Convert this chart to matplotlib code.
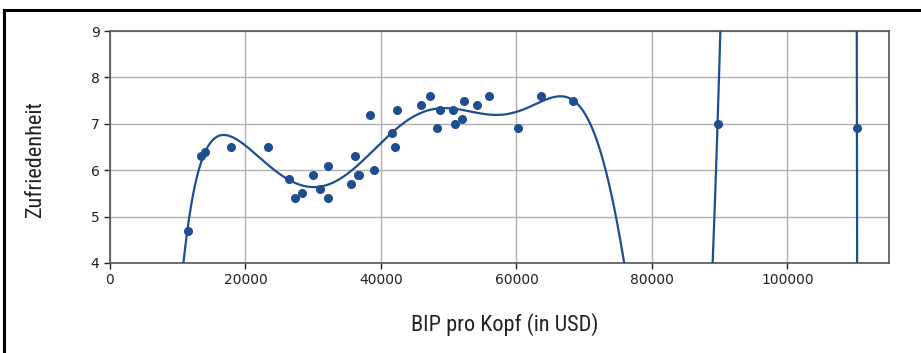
import numpy as np
import matplotlib
matplotlib.use("Agg")
import matplotlib.pyplot as plt
from matplotlib.lines import Line2D
from matplotlib import font_manager
from numpy.polynomial import Polynomial

# GDP per capita (USD) and life satisfaction per country
countries = ["South Africa", "Colombia", "Brazil", "Mexico", "Chile", "Russia",
             "Greece", "Turkey", "Latvia", "Hungary", "Portugal", "Poland",
             "Estonia", "Spain", "Slovenia", "Lithuania", "Israel", "Italy",
             "United Kingdom", "France", "New Zealand", "Canada", "Finland",
             "Belgium", "Australia", "Sweden", "Germany", "Austria", "Iceland",
             "Netherlands", "Denmark", "United States", "Norway", "Switzerland",
             "Ireland", "Luxembourg"]
gdp_per_capita = [11466.19, 13441.49, 14063.98, 17887.75, 23324.52, 26456.39,
                  27287.08, 28384.99, 29932.49, 31007.77, 32181.15, 32238.16,
                  35638.42, 36215.45, 36547.74, 36732.03, 38341.31, 38992.15,
                  41627.13, 42025.62, 42404.39, 45856.63, 47260.80, 48210.03,
                  48697.84, 50683.32, 50922.36, 51935.60, 52279.73, 54209.56,
                  55938.21, 60235.73, 63585.90, 68393.31, 89688.96, 110261.16]
life_satisfaction = [4.7, 6.3, 6.4, 6.5, 6.5, 5.8, 5.4, 5.5, 5.9, 5.6, 5.4, 6.1,
                     5.7, 6.3, 5.9, 5.9, 7.2, 6.0, 6.8, 6.5, 7.3, 7.4, 7.6, 6.9,
                     7.3, 7.3, 7.0, 7.1, 7.5, 7.4, 7.6, 6.9, 7.6, 7.5, 7.0, 6.9]

x_ticks = [0, 20000, 40000, 60000, 80000, 100000]
y_ticks = [4, 5, 6, 7, 8, 9]
poly_degree = 10

blue = "#1f4e8f"

# pick a narrow humanist face for the axis labels, if one is available
installed = {f.name for f in font_manager.fontManager.ttflist}
label_family = next((n for n in ["Liberation Sans Narrow", "DejaVu Sans Condensed",
                                 "Roboto Condensed", "Open Sans Condensed", "Lato"]
                     if n in installed), "DejaVu Sans")

x = np.array(gdp_per_capita)
y = np.array(life_satisfaction)

# high-degree polynomial regression over all countries
model = Polynomial.fit(x, y, poly_degree)
x_curve = np.linspace(0, 115000, 2000)
y_curve = model(x_curve)

fig = plt.figure(figsize=(9.21, 3.53), dpi=100)
ax = fig.add_axes([0.1194, 0.255, 0.8459, 0.657])

ax.plot(x, y, "o", color=blue, markersize=5.5, zorder=3)
ax.plot(x_curve, y_curve, "-", color=blue, linewidth=1.6, zorder=3)

ax.set_xlim(0, 115000)
ax.set_ylim(4, 9)
ax.set_xticks(x_ticks)
ax.set_yticks(y_ticks)
ax.tick_params(labelsize=10, colors="#222222", length=4, width=1)
ax.grid(True, color="#b0b0b0", linewidth=1.0)
ax.set_axisbelow(True)
for sp in ax.spines.values():
    sp.set_color("#555555")
    sp.set_linewidth(1.2)

ax.set_xlabel("BIP pro Kopf (in USD)", fontsize=16, family=label_family,
              color="#222222")
ax.xaxis.set_label_coords(0.507, -0.215)
ax.set_ylabel("Zufriedenheit", fontsize=16, family=label_family,
              color="#222222")
ax.yaxis.set_label_coords(-0.082, 0.448)

# outer frame on top and left edge
fig.add_artist(Line2D([0.004, 0.004], [0.0, 0.972], transform=fig.transFigure,
                      color="black", linewidth=2.2))
fig.add_artist(Line2D([0.004, 1.0], [0.972, 0.972], transform=fig.transFigure,
                      color="black", linewidth=2.2))

fig.savefig("out.png", dpi=100)
